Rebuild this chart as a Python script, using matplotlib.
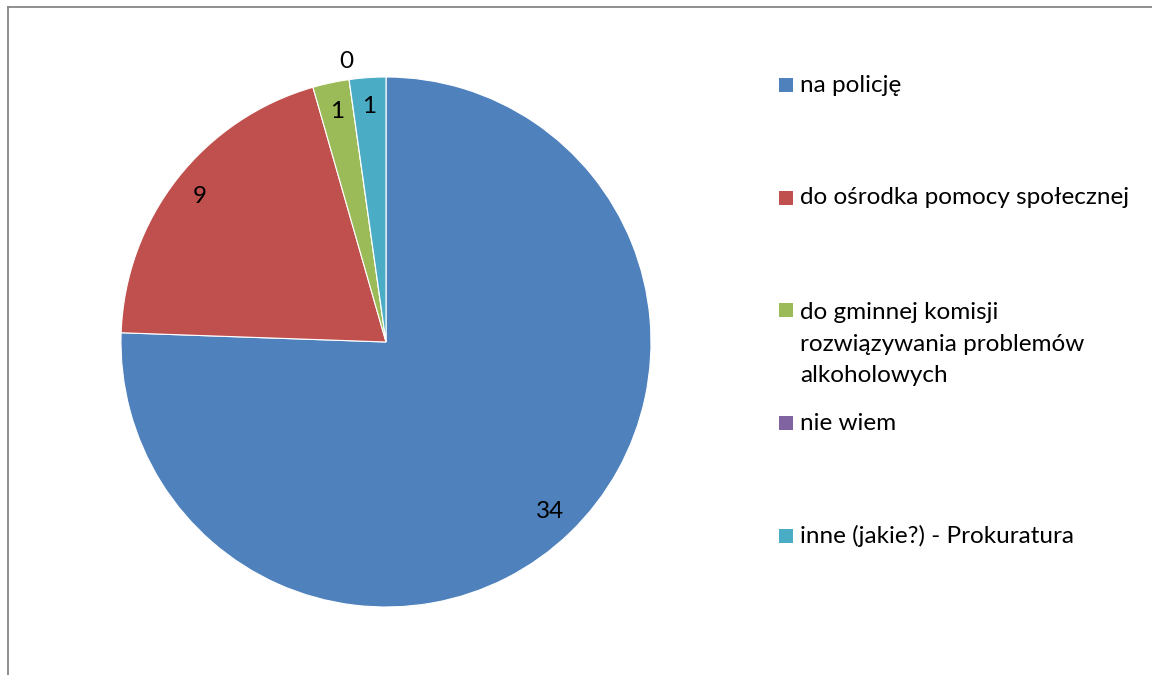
import matplotlib
matplotlib.use("Agg")
import matplotlib.pyplot as plt
from matplotlib.patches import Rectangle
from matplotlib.lines import Line2D
import numpy as np

plt.rcParams['font.family'] = ['Lato', 'DejaVu Sans']

categories = ["na policję", "do ośrodka pomocy społecznej",
              "do gminnej komisji\nrozwiązywania problemów\nalkoholowych",
              "nie wiem", "inne (jakie?) - Prokuratura"]
values = [34, 9, 1, 0, 1]
colors = ["#4F81BD", "#C0504D", "#9BBB59", "#8064A2", "#4BACC6"]

W, H = 1152, 675
fig = plt.figure(figsize=(W / 100, H / 100), dpi=100)

cx, cy, r = 386, 342, 265
ax = fig.add_axes([(cx - r) / W, (H - cy - r) / H, 2 * r / W, 2 * r / H])
wedges, _ = ax.pie(values, colors=colors, startangle=90, counterclock=False,
                   radius=1, wedgeprops=dict(edgecolor="white", linewidth=0.8))
ax.set_xlim(-1, 1)
ax.set_ylim(-1, 1)
ax.axis("off")

FS = 17.5
for w, v in zip(wedges, values):
    mid = np.deg2rad((w.theta1 + w.theta2) / 2)
    d = 0.89 if v > 0 else 1.07
    ax.text(d * np.cos(mid), d * np.sin(mid), str(v), ha="center", va="center",
            fontsize=FS, color="black", clip_on=False)

# legend
entry_y = [85, 198, 310, 423, 536]
for yc, c, lab in zip(entry_y, colors, categories):
    fig.patches.append(Rectangle((779 / W, (H - yc - 7) / H), 14 / W, 14 / H,
                                 transform=fig.transFigure, facecolor=c,
                                 edgecolor="none"))
    if "\n" in lab:
        fig.text(800 / W, (H - yc + 8) / H, lab, ha="left", va="top",
                 fontsize=FS, linespacing=1.63, color="black")
    else:
        fig.text(800 / W, (H - yc) / H, lab, ha="left", va="center",
                 fontsize=FS, color="black")

# frame (top and left only)
fig.add_artist(Line2D([7.5 / W, 1], [(H - 6.5) / H, (H - 6.5) / H],
                      transform=fig.transFigure, color="#878787", linewidth=1.3))
fig.add_artist(Line2D([7.5 / W, 7.5 / W], [0, (H - 6.5) / H],
                      transform=fig.transFigure, color="#878787", linewidth=1.3))

fig.savefig("out.png", dpi=100)
